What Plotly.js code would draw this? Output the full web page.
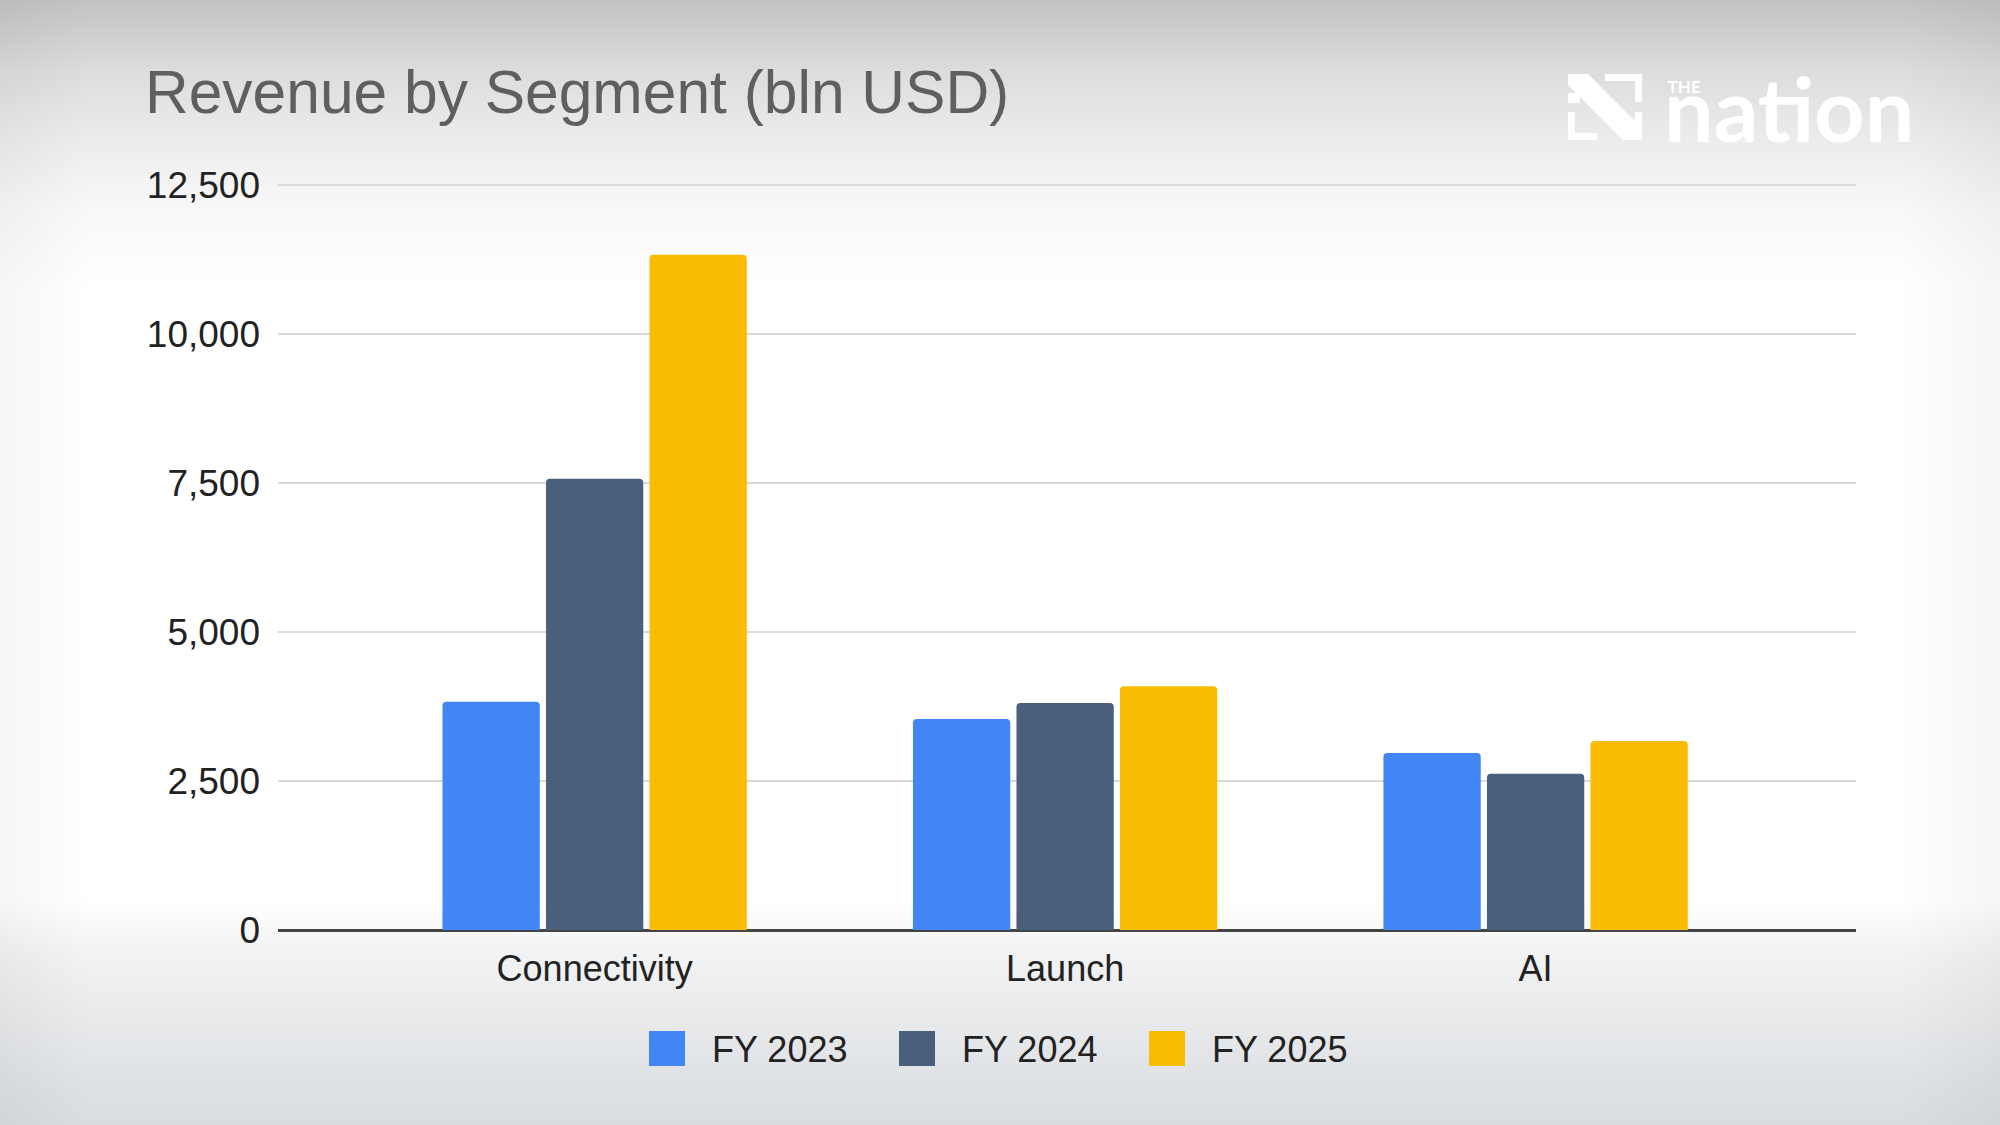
<!DOCTYPE html>
<html>
<head>
<meta charset="utf-8">
<script src="https://cdn.plot.ly/plotly-3.0.1.min.js"></script>
<style>
  html, body { margin: 0; padding: 0; }
  body {
    width: 2000px; height: 1125px; overflow: hidden;
    background:
      linear-gradient(to right, rgba(0,0,0,0.035) 0px, rgba(0,0,0,0) 90px, rgba(0,0,0,0) 1900px, rgba(0,0,0,0.035) 2000px),
      linear-gradient(to bottom, #c2c2c2 0px, #dcdcdc 70px, #ececec 140px, #f8f8f8 210px, #ffffff 290px, #ffffff 900px, #f2f3f4 950px, #e6e8ea 1030px, #d9dce0 1125px);
  }
  #chart { width: 2000px; height: 1125px; }
</style>
</head>
<body>
<div id="chart"></div>
<script>
// ---- data ----
const categories = ["Connectivity", "Launch", "AI"];
const seriesNames = ["FY 2023", "FY 2024", "FY 2025"];
const fy2023 = [3830, 3540, 2970];
const fy2024 = [7570, 3810, 2620];
const fy2025 = [11330, 4090, 3170];
const yTickVals = [0, 2500, 5000, 7500, 10000, 12500];

// ---- style ----
const colors = ["#4285F4", "#4A5F7E", "#F9BC02"];
const W = 2000, H = 1125;
const M = { l: 278, r: 144, t: 184, b: 195 };
const PW = W - M.l - M.r, PH = H - M.t - M.b;
const px2x = px => (px - M.l) / PW;
const px2y = py => (H - M.b - py) / PH;
const FONT = "Liberation Sans, Arial, sans-serif";

const seriesValues = [fy2023, fy2024, fy2025];
const traces = seriesValues.map((vals, i) => ({
  type: "bar",
  name: seriesNames[i],
  x: categories,
  y: vals,
  marker: { color: colors[i], cornerradius: 4, line: { width: 0 } },
  hoverinfo: "x+y+name"
}));

// custom legend (large swatches like the reference)
const legendSwatchX = [649, 899, 1149];
const shapes = [];
const annotations = [];
seriesNames.forEach((nm, i) => {
  const x0 = legendSwatchX[i];
  shapes.push({
    type: "rect", xref: "paper", yref: "paper",
    x0: px2x(x0), x1: px2x(x0 + 36), y0: px2y(1066), y1: px2y(1031),
    fillcolor: colors[i], line: { width: 0 }, layer: "above"
  });
  annotations.push({
    xref: "paper", yref: "paper", x: px2x(x0 + 61), y: px2y(1049),
    xanchor: "left", yanchor: "middle", showarrow: false,
    text: nm, font: { family: FONT, size: 36, color: "#222222" }
  });
});

// watermark logo (decorative)
const nPath = [
  "M1568,74 L1588,74 L1642,128 L1642,140 L1623,140 L1568,85 Z",
  "M1605,74 L1642,74 L1642,102 L1635,102 L1635,81 L1605,81 Z",
  "M1568,112 L1575,112 L1575,133 L1597,133 L1597,140 L1568,140 Z",
  "M1568,93 L1580,93 L1580,103 L1568,103 Z",
  "M1635,112 L1642,112 L1642,140 L1635,140 Z"
];
nPath.forEach(p => {
  const conv = p.replace(/(\d+(?:\.\d+)?),(\d+(?:\.\d+)?)/g, (m, a, b) =>
    px2x(+a).toFixed(5) + "," + px2y(+b).toFixed(5));
  shapes.push({ type: "path", xref: "paper", yref: "paper", path: conv,
    fillcolor: "#ffffff", line: { width: 0 }, layer: "above" });
});
annotations.push({
  xref: "paper", yref: "paper", x: px2x(1662), y: px2y(108),
  xanchor: "left", yanchor: "middle", align: "left", showarrow: false,
  text: "<span style='font-size:17px'><b>&nbsp;THE</b></span><br><span style='font-size:88px'><b>nation</b></span>",
  font: { family: "Lato, sans-serif", size: 38, color: "#ffffff" }
});

const layout = {
  width: W, height: H,
  margin: M,
  paper_bgcolor: "rgba(0,0,0,0)",
  plot_bgcolor: "rgba(0,0,0,0)",
  showlegend: false,
  barmode: "group",
  bargap: 0.34,
  bargroupgap: 0.06,
  title: {
    text: "Revenue by Segment (bln USD)",
    xref: "container", yref: "container",
    x: 145 / W, xanchor: "left",
    y: 1 - 92 / H, yanchor: "middle",
    font: { family: FONT, size: 60.5, color: "#5f5f5f" }
  },
  xaxis: {
    type: "category",
    categoryorder: "array", categoryarray: categories,
    range: [-0.673, 2.681],
    showgrid: false, showline: false, zeroline: false, ticks: "",
    ticklabelstandoff: 14,
    tickfont: { family: FONT, size: 36, color: "#222222" }
  },
  yaxis: {
    range: [0, 12518],
    tickvals: yTickVals,
    tickformat: ",d",
    showgrid: true, gridcolor: "#d9d9d9", gridwidth: 2,
    zeroline: true, zerolinecolor: "#444444", zerolinewidth: 3,
    showline: false, ticks: "",
    ticklabelstandoff: 17,
    tickfont: { family: FONT, size: 37, color: "#222222" }
  },
  shapes: shapes,
  annotations: annotations
};

Plotly.newPlot("chart", traces, layout, { displayModeBar: false, staticPlot: true });
</script>
</body>
</html>
